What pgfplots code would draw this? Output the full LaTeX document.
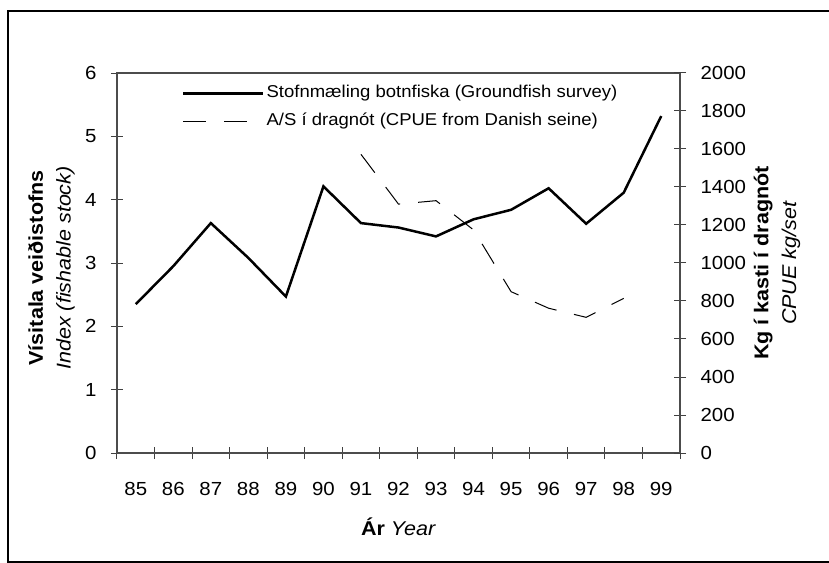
\documentclass[border=0pt]{standalone}
\usepackage{fontspec}
\setmainfont{Liberation Sans}[FakeStretch=1.08]
\usepackage{pgfplots}
\pgfplotsset{compat=1.18}

% font sizes (it is slightly stretched sideways)
\newcommand\tickfont{\fontsize{19}{23}\selectfont}
\newcommand\labfont{\fontsize{20}{28}\selectfont}
\newcommand\legfont{\fontsize{17.2}{21}\selectfont}

\pgfplotsset{
  common/.style={
    scale only axis, width=563bp, height=380bp,
    xmin=84.5, xmax=99.5,
    axis line style={black!70, line width=1.5bp},
    tick align=center, major tick length=12bp,
    tick style={black!75, line width=1bp},
    every tick label/.append style={font=\tickfont},
    label style={font=\labfont, align=center},
    /pgf/number format/assume math mode=true,
    /pgf/number format/1000 sep={},
    scaled y ticks=false,
  }
}

\begin{document}
\begin{tikzpicture}
\path[use as bounding box] (-117bp,-110bp) rectangle (712bp,453bp);
\draw[line width=1.2bp] (-109bp,442bp) rectangle (716bp,-109bp);

\begin{axis}[common, at={(0,0)}, anchor=south west,
  ymin=0, ymax=6, ytick={0,1,...,6}, ytick pos=left,
  xtick={84.5,85.5,...,99.5}, xtick pos=bottom,
  x tick label as interval,
  xticklabels={85,86,87,88,89,90,91,92,93,94,95,96,97,98,99},
  xticklabel style={anchor=base, yshift=-36bp},
  yticklabel style={xshift=-11bp},
  xlabel={\textbf{Ár} \textit{Year}},
  xlabel style={at={(axis description cs:0.5,0)}, anchor=base, yshift=-82bp},
  ylabel={\textbf{Vísitala veiðistofns}\\\textit{Index (fishable stock)}},
  ylabel style={at={(axis description cs:-0.1163,0.487)}, anchor=center, rotate=0},
  legend style={draw=none, fill=none, font=\legfont,
    at={(axis description cs:0.1100,0.980)}, anchor=north west,
    row sep=7bp,
    nodes={text height=13bp, text depth=4bp, inner sep=2bp}},
  legend cell align=left,
  legend image code/.code={\draw[#1] (0bp,0bp) -- (80bp,0bp);},
]
\addplot[black, line width=2.5bp] coordinates {
  (85,2.35) (86,2.95) (87,3.63) (88,3.08) (89,2.47) (90,4.21) (91,3.63)
  (92,3.56) (93,3.42) (94,3.69) (95,3.84) (96,4.18) (97,3.62) (98,4.11) (99,5.32)};
\addlegendentry{Stofnmæling botnfiska (Groundfish survey)}
\addlegendimage{black, line width=1bp, dash pattern=on 23bp off 18bp}
\addlegendentry{A/S í dragnót (CPUE from Danish seine)}
\end{axis}

\begin{axis}[common, at={(0,0)}, anchor=south west,
  axis x line=none, axis y line*=right,
  ymin=0, ymax=2000, ytick={0,200,...,2000},
  yticklabel style={xshift=11bp},
  ylabel={\textbf{Kg í kasti í dragnót}\\\textit{CPUE kg/set}},
  ylabel style={at={(axis description cs:1.1723,0.5)}, anchor=center, rotate=0},
]
\addplot[black, line width=1bp, dash pattern=on 23bp off 18bp] coordinates {
  (91,1572) (92,1310) (93,1328) (94,1174) (95,849) (96,762) (97,714) (98,814)};
\end{axis}
\end{tikzpicture}
\end{document}
